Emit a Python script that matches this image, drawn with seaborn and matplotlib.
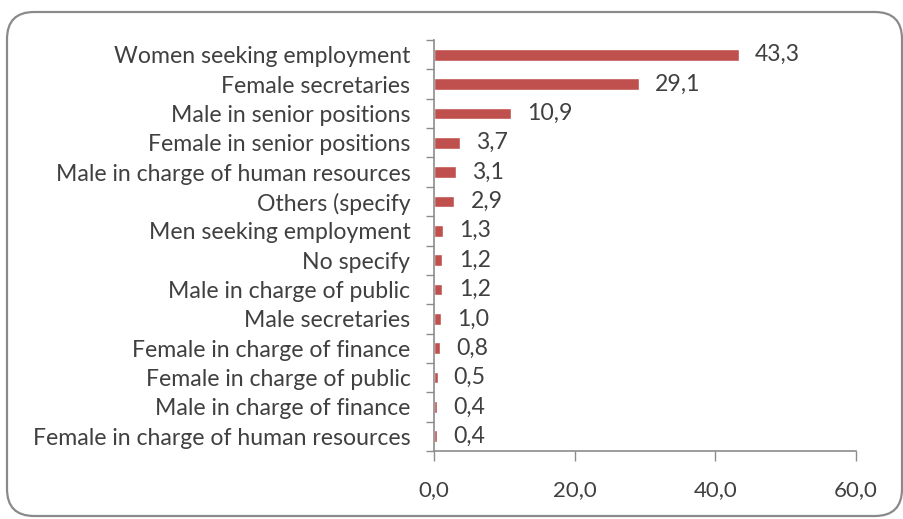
import matplotlib
matplotlib.use("Agg")
import matplotlib.pyplot as plt
from matplotlib.patches import FancyBboxPatch
from matplotlib.ticker import FixedLocator, FuncFormatter
import seaborn as sns
import pandas as pd

categories = [
    "Women seeking employment",
    "Female secretaries",
    "Male in senior positions",
    "Female in senior positions",
    "Male in charge of human resources",
    "Others (specify",
    "Men seeking employment",
    "No specify",
    "Male in charge of public",
    "Male secretaries",
    "Female in charge of finance",
    "Female in charge of public",
    "Male in charge of finance",
    "Female in charge of human resources",
]
values = [43.3, 29.1, 10.9, 3.7, 3.1, 2.9, 1.3, 1.2, 1.2, 1.0, 0.8, 0.5, 0.4, 0.4]
x_ticks = [0, 20, 40, 60]

df = pd.DataFrame({"category": categories, "value": values})

sns.set_theme(style="white")
plt.rcParams["font.family"] = ["Lato", "DejaVu Sans"]

text_color = "#404040"
axis_color = "#8c8c8c"
bar_color = "#C0504D"
fs = 16.6

W, H = 904, 519
fig = plt.figure(figsize=(W / 100, H / 100), dpi=100)
ax = fig.add_axes([434 / W, 1 - 451 / H, (856 - 434) / W, (451 - 40) / H])

sns.barplot(data=df, x="value", y="category", orient="h", color=bar_color,
            width=0.4, saturation=1, ax=ax)

ax.set_xlim(0, 60)
ax.set_ylim(len(categories) - 0.5, -0.5)
ax.set_xlabel("")
ax.set_ylabel("")

ax.xaxis.set_major_locator(FixedLocator(x_ticks))
ax.xaxis.set_major_formatter(FuncFormatter(lambda v, p: f"{v:.1f}".replace(".", ",")))
ax.tick_params(axis="x", direction="out", length=7, width=1, color=axis_color,
               labelsize=16, labelcolor=text_color, pad=14, bottom=True)

# category boundaries get the small outward ticks; labels sit between them
ax.yaxis.set_minor_locator(FixedLocator([i - 0.5 for i in range(len(categories) + 1)]))
ax.tick_params(axis="y", which="minor", direction="out", length=6, width=1,
               color=axis_color, left=True)
ax.tick_params(axis="y", which="major", length=0, labelsize=fs,
               labelcolor=text_color, pad=17)

for side in ["top", "right"]:
    ax.spines[side].set_visible(False)
for side in ["left", "bottom"]:
    ax.spines[side].set_color(axis_color)
    ax.spines[side].set_linewidth(1.2)

for i, v in enumerate(values):
    ax.text(v + 2.3, i, f"{v:.1f}".replace(".", ","), va="center", ha="left",
            fontsize=fs, color=text_color)

# rounded chart frame
x0, y0, x1, y1 = 7, 12, 902, 516
frame = FancyBboxPatch((x0 / W, 1 - y1 / H), (x1 - x0) / W, (y1 - y0) / H,
                       boxstyle="round,pad=0,rounding_size=0.03",
                       transform=fig.transFigure, facecolor="none",
                       edgecolor="#8a8a8a", linewidth=1.6, mutation_aspect=W / H,
                       clip_on=False)
fig.patches.append(frame)

fig.savefig("out.png", dpi=100)
